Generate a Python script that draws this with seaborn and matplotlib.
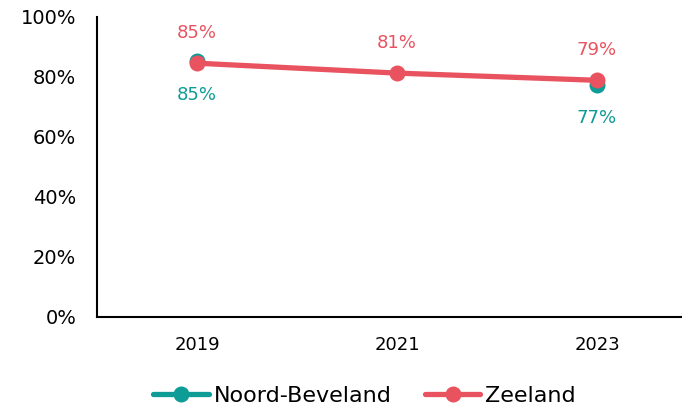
import matplotlib
matplotlib.use("Agg")
import matplotlib.pyplot as plt
import numpy as np
import pandas as pd
import seaborn as sns

years = ["2019", "2021", "2023"]
noord_beveland = [85.2, np.nan, 77.3]
zeeland = [84.6, 81.3, 78.9]

teal = "#0F9B96"
red = "#E8535F"

sns.set_style("white")
plt.rcParams["font.family"] = ["DejaVu Sans"]
plt.rcParams["text.color"] = "black"
plt.rcParams["xtick.color"] = "black"
plt.rcParams["ytick.color"] = "black"

df = pd.DataFrame({"x": range(len(years)), "nb": noord_beveland, "z": zeeland})

fig = plt.figure(figsize=(6.82, 4.08), dpi=100)
ax = fig.add_axes([97 / 682, 1 - 317 / 408, 600 / 682, 300 / 408])

# Noord-Beveland has a gap in 2021, so keep the NaN (matplotlib breaks the line there)
ax.plot(df["x"], df["nb"], color=teal, lw=3.8, marker="o", markersize=11.5,
        markeredgewidth=0, label="Noord-Beveland")
sns.lineplot(data=df, x="x", y="z", ax=ax, color=red, lw=3.8, marker="o",
             markersize=11.5, markeredgewidth=0, label="Zeeland")

for i, v in enumerate(zeeland):
    ax.annotate(f"{v:.0f}%", (i, v), xytext=(0, 22), textcoords="offset points",
                ha="center", va="center", color=red, fontsize=13)
for i, v in enumerate(noord_beveland):
    if not np.isnan(v):
        ax.annotate(f"{v:.0f}%", (i, v), xytext=(0, -24), textcoords="offset points",
                    ha="center", va="center", color=teal, fontsize=13)

ax.set_xlim(-0.5, 2.5)
ax.set_ylim(0, 100)
ax.set_xticks(range(len(years)))
ax.set_xticklabels(years)
ax.set_yticks(range(0, 101, 20))
ax.set_yticklabels([f"{t}%" for t in range(0, 101, 20)])
ax.tick_params(axis="y", length=0, pad=15, labelsize=14, labelcolor="black")
ax.tick_params(axis="x", length=0, pad=14, labelsize=13, labelcolor="black")
ax.set_xlabel("")
ax.set_ylabel("")
for s in ["top", "right"]:
    ax.spines[s].set_visible(False)
for s in ["left", "bottom"]:
    ax.spines[s].set_color("black")
    ax.spines[s].set_linewidth(1.5)

ax.legend(loc="center", ncol=2, frameon=False, fontsize=16, handlelength=2.5,
          handletextpad=0.22, columnspacing=1.5, borderpad=0, labelcolor="black")
leg = ax.get_legend()
leg.set_bbox_to_anchor((364.5 / 682, 1 - 396 / 408), transform=fig.transFigure)

fig.savefig("out.png", dpi=100)
